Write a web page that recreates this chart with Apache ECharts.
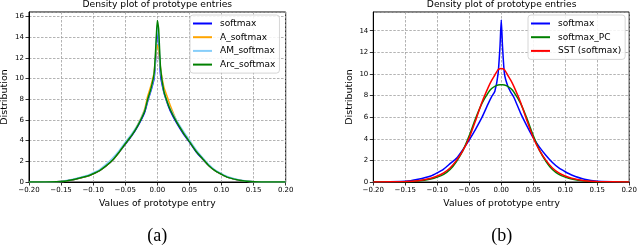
<!DOCTYPE html>
<html><head><meta charset="utf-8">
<script src="https://cdn.jsdelivr.net/npm/echarts@6/dist/echarts.min.js"></script>
<style>html,body{margin:0;padding:0;background:#fff}#c{width:640px;height:247px}</style>
</head><body><div id="c"></div>
<script>
// ---- data ----
const xs = [-0.2,-0.15,-0.13,-0.11,-0.1,-0.09,-0.08,-0.07,-0.06,-0.05,-0.04,-0.03,-0.02,-0.015,-0.01,-0.005,-0.002,0,0.002,0.005,0.01,0.015,0.02,0.03,0.04,0.05,0.06,0.07,0.08,0.09,0.1,0.11,0.13,0.15,0.2];
// chart (a)
const softmaxA    = [0,0.05,0.25,0.55,0.8,1.1,1.55,2.1,2.85,3.65,4.45,5.45,6.7,7.8,8.8,10.0,12.5,15.0,13.5,10.3,8.7,7.7,6.9,5.7,4.7,3.85,2.95,2.25,1.6,1.1,0.75,0.45,0.15,0.03,0];
const aSoftmax    = [0,0.05,0.25,0.55,0.8,1.1,1.55,2.1,2.85,3.7,4.55,5.6,7.0,8.3,9.3,10.6,12.5,13.2,12.8,11.0,9.2,8.3,7.4,5.9,4.85,3.95,3.05,2.3,1.6,1.1,0.75,0.45,0.15,0.03,0];
const amSoftmax   = [0,0.06,0.28,0.62,0.9,1.2,1.7,2.3,3.0,3.85,4.65,5.6,6.9,7.9,8.9,10.3,13.0,15.2,14.0,10.8,8.8,7.8,7.1,5.95,4.95,4.05,3.15,2.4,1.7,1.15,0.8,0.5,0.16,0.03,0];
const arcSoftmax  = [0,0.05,0.25,0.55,0.8,1.1,1.55,2.1,2.85,3.7,4.5,5.5,6.8,8.0,9.0,10.5,13.5,15.6,14.8,11.0,8.8,7.8,7.0,5.8,4.8,3.9,3.0,2.3,1.6,1.1,0.75,0.45,0.15,0.03,0];
// chart (b)
const softmaxB    = [0,0.06,0.25,0.55,0.85,1.2,1.7,2.2,3.0,3.9,4.9,6.0,7.3,7.9,8.4,10.0,12.5,15.0,12.5,10.0,8.9,8.3,7.8,6.4,5.2,4.1,3.2,2.45,1.8,1.3,0.95,0.65,0.25,0.06,0];
const softmaxPC   = [0,0.03,0.1,0.28,0.45,0.7,1.15,1.9,2.9,4.3,5.9,7.3,8.3,8.65,8.85,8.97,9.0,9.0,9.0,8.97,8.85,8.65,8.3,7.3,5.9,4.3,2.9,1.9,1.15,0.7,0.45,0.28,0.1,0.03,0];
const sstSoftmax  = [0,0.04,0.12,0.35,0.55,0.85,1.3,2.0,2.9,4.1,5.7,7.4,8.8,9.4,9.9,10.4,10.48,10.5,10.48,10.4,9.9,9.4,8.8,7.4,5.7,4.1,2.9,2.0,1.3,0.85,0.55,0.35,0.12,0.04,0];
const xTicks = [-0.2,-0.15,-0.1,-0.05,0,0.05,0.1,0.15,0.2];
const namesA = ['softmax','A_softmax','AM_softmax','Arc_softmax'];
const namesB = ['softmax','softmax_PC','SST (softmax)'];

const pairs = ys => xs.map((x,i)=>[x,ys[i]]);
const FONT = 'DejaVu Sans';
const fmtX = v => { const s = Math.abs(v).toFixed(2); return (v < -1e-9 ? '\u2212' : '') + s; };

function xAxis(gi){
  return {gridIndex:gi,type:'value',min:-0.2,max:0.2,interval:0.05,
    axisLine:{show:true,onZero:false,lineStyle:{color:'#000',width:1}},
    axisTick:{show:true,length:3.5,lineStyle:{color:'#000',width:0.8}},
    axisLabel:{fontFamily:FONT,fontSize:7,color:'#000',margin:5,formatter:fmtX},
    splitLine:{show:true,lineStyle:{color:'#a0a0a0',width:0.8,type:[2.5,1.5]}}};
}
function yAxis(gi,max){
  return {gridIndex:gi,type:'value',min:0,max:max,interval:2,
    axisLine:{show:true,onZero:false,lineStyle:{color:'#000',width:1}},
    axisTick:{show:true,length:3.5,lineStyle:{color:'#000',width:0.8}},
    axisLabel:{fontFamily:FONT,fontSize:7,color:'#000',margin:5,showMaxLabel:false,
      formatter:v=> (Math.abs(v%2)<1e-6 ? String(v) : '')},
    splitLine:{show:true,lineStyle:{color:'#a0a0a0',width:0.8,type:[2.5,1.5]}}};
}
function ser(name,ys,color,gi){
  return {name:name,type:'line',xAxisIndex:gi,yAxisIndex:gi,data:pairs(ys),showSymbol:false,
    smooth:0.2,lineStyle:{color:color,width:1.5},itemStyle:{color:color},animation:false};
}
function legend(names,left,top){
  return {data:names,orient:'vertical',left:left,top:top,icon:'rect',itemWidth:19,itemHeight:2,itemGap:2.7,
    padding:[3,4,3,3],borderColor:'#cccccc',borderWidth:0.8,borderRadius:3,backgroundColor:'rgba(255,255,255,0.85)',
    textStyle:{fontFamily:FONT,fontSize:9,color:'#000',lineHeight:11,padding:[0,0,0,3]}};
}
const txt = (x,y,s,size,extra) => ({type:'text',x:x,y:y,style:Object.assign({text:s,fontFamily:FONT,fontSize:size,fill:'#000',textAlign:'center',textVerticalAlign:'middle'},extra||{})});

const chart = echarts.init(document.getElementById('c'),null,{renderer:'canvas'});
chart.setOption({
  animation:false,
  grid:[
    {left:29,top:12,width:256.7,height:170,show:true,borderColor:'#000',borderWidth:1,backgroundColor:'transparent'},
    {left:373.3,top:12,width:256.7,height:170,show:true,borderColor:'#000',borderWidth:1,backgroundColor:'transparent'}
  ],
  xAxis:[xAxis(0),xAxis(1)],
  yAxis:[yAxis(0,16.42),yAxis(1,15.73)],
  legend:[legend(namesA,190,15),legend(namesB,528,15)],
  series:[
    ser('softmax',softmaxA,'#0000ff',0),
    ser('A_softmax',aSoftmax,'#ffa500',0),
    ser('AM_softmax',amSoftmax,'#87cefa',0),
    ser('Arc_softmax',arcSoftmax,'#008000',0),
    ser('softmax',softmaxB,'#0000ff',1),
    ser('softmax_PC',softmaxPC,'#008000',1),
    ser('SST (softmax)',sstSoftmax,'#ff0000',1)
  ],
  graphic:[
    txt(157.3,5,'Density plot of prototype entries',9.2),
    txt(501.7,5,'Density plot of prototype entries',9.2),
    txt(157.3,204,'Values of prototype entry',9.2),
    txt(501.7,204,'Values of prototype entry',9.2),
    {type:'text',x:5,y:97,rotation:Math.PI/2,style:{text:'Distribution',fontFamily:FONT,fontSize:9.5,fill:'#000',textAlign:'center',textVerticalAlign:'middle'}},
    {type:'text',x:350,y:97,rotation:Math.PI/2,style:{text:'Distribution',fontFamily:FONT,fontSize:9.5,fill:'#000',textAlign:'center',textVerticalAlign:'middle'}},
    txt(157.3,236,'(a)',18,{fontFamily:'Liberation Serif'}),
    txt(501.7,236,'(b)',18,{fontFamily:'Liberation Serif'})
  ]
});
</script></body></html>
